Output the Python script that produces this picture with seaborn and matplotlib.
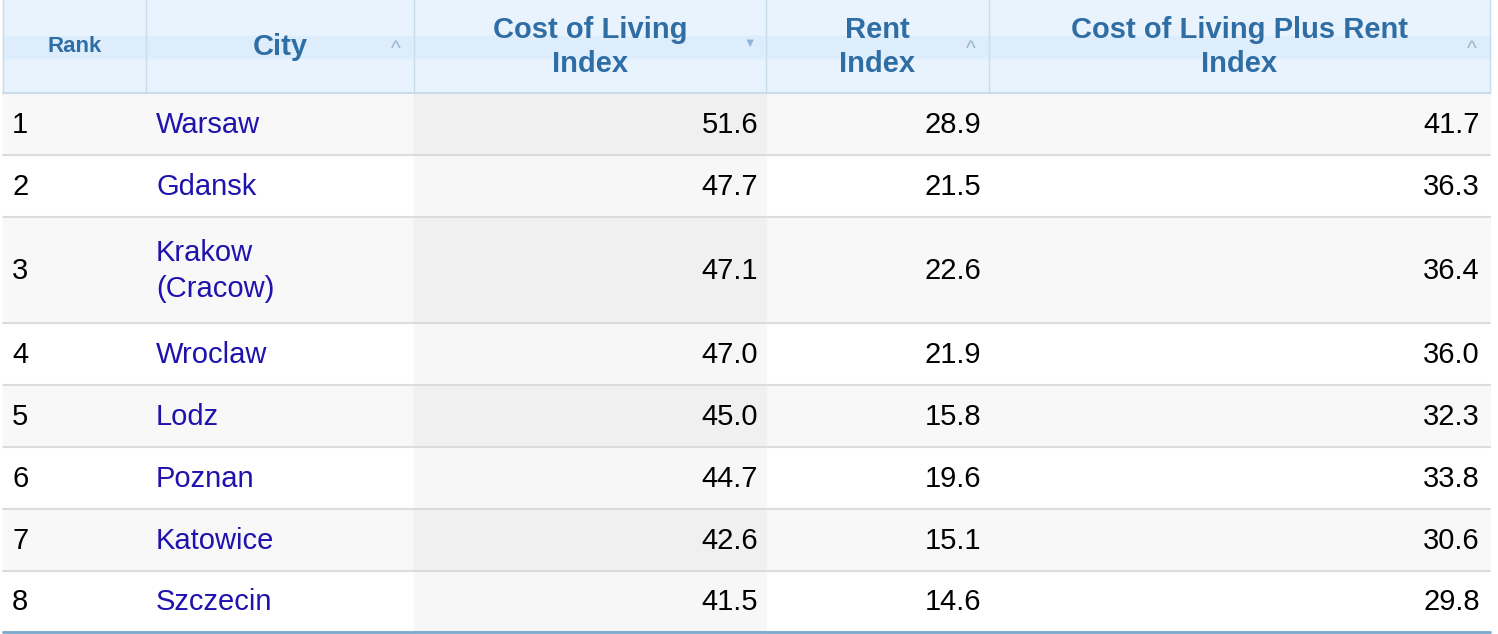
"""
Cost of living table for Polish cities
"""

import matplotlib.pyplot as plt
import matplotlib.patches as patches
import seaborn as sns

ranks = [1, 2, 3, 4, 5, 6, 7, 8]
cities = ['Warsaw', 'Gdansk', 'Krakow\n(Cracow)', 'Wroclaw', 'Lodz', 'Poznan', 'Katowice', 'Szczecin']
cost_of_living = [51.6, 47.7, 47.1, 47.0, 45.0, 44.7, 42.6, 41.5]
rent_index = [28.9, 21.5, 22.6, 21.9, 15.8, 19.6, 15.1, 14.6]
col_plus_rent = [41.7, 36.3, 36.4, 36.0, 32.3, 33.8, 30.6, 29.8]
headers = ['Rank', 'City', 'Cost of Living\nIndex', 'Rent\nIndex', 'Cost of Living Plus Rent\nIndex']

sns.set_theme(style='white')
plt.rcParams['font.family'] = ['Liberation Sans', 'DejaVu Sans']

col_edges = [3, 146, 414, 766, 989, 1490]
row_edges = [93, 155, 217, 323, 385, 447, 509, 571, 632]
head_color = '#2f6ea5'
link_color = '#1f12ad'
grid_color = '#dcdcdc'

fig = plt.figure(figsize=(14.98, 6.34), dpi=100)
ax = fig.add_axes([0, 0, 1, 1])
ax.set_xlim(0, 1498)
ax.set_ylim(634, 0)
ax.axis('off')

# header background
ax.add_patch(patches.Rectangle((3, 0), 1487, 93, color='#e8f3fd', zorder=0))
ax.add_patch(patches.Rectangle((3, 36), 1487, 22, color='#ddedfb', zorder=0))
for x in col_edges:
    ax.plot([x, x], [0, 93], color='#c9dcec', lw=1)
ax.plot([3, 1490], [93, 93], color='#c9dcec', lw=1.5)

# body backgrounds
for i in range(len(ranks)):
    top, bottom = row_edges[i], row_edges[i + 1]
    base = '#f8f8f8' if i % 2 == 0 else 'white'
    sorted_bg = '#f0f0f0' if i % 2 == 0 else '#f7f7f7'
    ax.add_patch(patches.Rectangle((3, top), 1487, bottom - top, color=base, zorder=0))
    ax.add_patch(patches.Rectangle((414, top), 352, bottom - top, color=sorted_bg, zorder=0))
    ax.plot([3, 1490], [bottom, bottom], color=grid_color, lw=1.5)
ax.plot([3, 1490], [632, 632], color='#7aaad0', lw=2)

# header texts
centers = [(col_edges[j] + col_edges[j + 1]) / 2 for j in range(5)]
for j, h in enumerate(headers):
    ax.text(centers[j], 47, h, ha='center', va='center', fontsize=16 if j == 0 else 21,
            fontweight='bold', color=head_color, linespacing=1.3)
for j in [1, 3, 4]:
    ax.text(col_edges[j + 1] - 18, 49, '^', ha='center', va='center', fontsize=15, color='#9bb6cc')
ax.text(col_edges[3] - 16, 44, '\u25bc', ha='center', va='center', fontsize=9, color='#8fb3d9')

# body texts
for i in range(len(ranks)):
    yc = (row_edges[i] + row_edges[i + 1]) / 2 + 1
    ax.text(12, yc, str(ranks[i]), ha='left', va='center', fontsize=21, color='black')
    ax.text(156, yc, cities[i], ha='left', va='center', fontsize=21, color=link_color, linespacing=1.4)
    ax.text(758, yc, f'{cost_of_living[i]:.1f}', ha='right', va='center', fontsize=21, color='black')
    ax.text(981, yc, f'{rent_index[i]:.1f}', ha='right', va='center', fontsize=21, color='black')
    ax.text(1480, yc, f'{col_plus_rent[i]:.1f}', ha='right', va='center', fontsize=21, color='black')

plt.savefig('out.png', dpi=100)
